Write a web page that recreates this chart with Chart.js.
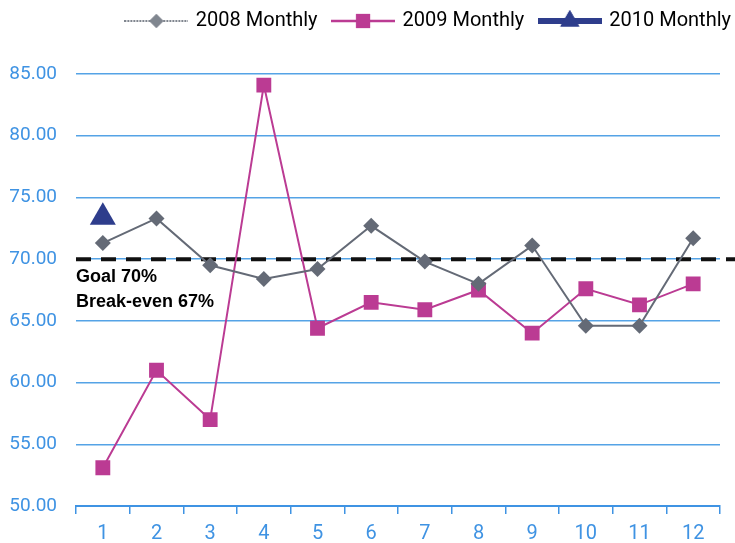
<!DOCTYPE html>
<html>
<head>
<meta charset="utf-8">
<script src="https://cdn.jsdelivr.net/npm/chart.js@4/dist/chart.umd.min.js"></script>
<style>
  body { margin: 0; background: #fff; }
  #wrap { width: 735px; height: 543px; }
</style>
</head>
<body>
<div id="wrap"><canvas id="myChart"></canvas></div>
<script>
const months = ['1', '2', '3', '4', '5', '6', '7', '8', '9', '10', '11', '12'];
const monthly2008 = [71.3, 73.3, 69.5, 68.4, 69.2, 72.7, 69.8, 68.0, 71.1, 64.6, 64.6, 71.7];
const monthly2009 = [53.1, 61.0, 57.0, 84.1, 64.4, 66.5, 65.9, 67.5, 64.0, 67.6, 66.3, 68.0];
const monthly2010 = [73.4, null, null, null, null, null, null, null, null, null, null, null];
const goal = 70;
const goalLabels = ['Goal 70%', 'Break-even 67%'];

const font = "Roboto, 'Liberation Sans', sans-serif";
const blue = '#3f93e3';

// small line + marker picture for the legend
function legendIcon(color, lineWidth, dash, style, radius) {
    const c = document.createElement('canvas');
    c.width = 64;
    c.height = 26;
    const ctx = c.getContext('2d');
    ctx.strokeStyle = color;
    ctx.lineWidth = lineWidth;
    ctx.setLineDash(dash);
    ctx.beginPath();
    ctx.moveTo(0, 13);
    ctx.lineTo(64, 13);
    ctx.stroke();
    ctx.setLineDash([]);
    ctx.fillStyle = color;
    Chart.helpers.drawPoint(ctx, { pointStyle: style, radius: radius, rotation: 0, borderWidth: 0 }, 32, 13);
    ctx.fill();
    return c;
}

const icons = [
    legendIcon('#80868f', 2, [2, 1], 'rectRot', 7),
    legendIcon('#bb3b93', 2.5, [], 'rect', 10),
    legendIcon('#2e3d8c', 6, [], 'triangle', 11)
];

const goalLine = {
    id: 'goalLine',
    beforeInit(chart) {
        const fit = chart.legend.fit;
        chart.legend.fit = function () {
            fit.call(this);
            this.height = 74;
        };
    },
    afterLayout(chart) {
        const lg = chart.legend;
        const dx = chart.width + 12 - lg.right;
        lg.left += dx;
        lg.right += dx;
        lg.top -= 5;
        lg.bottom -= 5;
    },
    beforeDatasetsDraw(chart) {
        const ctx = chart.ctx;
        const y = chart.scales.y.getPixelForValue(goal);
        const left = chart.chartArea.left;
        ctx.save();
        ctx.strokeStyle = '#111';
        ctx.lineWidth = 4;
        ctx.setLineDash([15, 10]);
        ctx.beginPath();
        ctx.moveTo(left, y);
        ctx.lineTo(chart.width, y);
        ctx.stroke();
        ctx.setLineDash([]);
        ctx.fillStyle = '#000';
        ctx.font = "bold 18px 'Liberation Sans', Arial, sans-serif";
        ctx.textBaseline = 'alphabetic';
        ctx.fillText(goalLabels[0], left, y + 23);
        ctx.fillText(goalLabels[1], left, y + 48);
        ctx.restore();
    }
};

new Chart(document.getElementById('myChart').getContext('2d'), {
    type: 'line',
    data: {
        labels: months,
        datasets: [{
            label: '2008 Monthly',
            data: monthly2008,
            borderColor: '#646a76',
            backgroundColor: '#646a76',
            borderWidth: 2,
            pointStyle: 'rectRot',
            pointRadius: 8,
            pointBorderWidth: 0,
            tension: 0
        }, {
            label: '2009 Monthly',
            data: monthly2009,
            borderColor: '#bb3b93',
            backgroundColor: '#bb3b93',
            borderWidth: 2,
            pointStyle: 'rect',
            pointRadius: 10.5,
            pointBorderWidth: 0,
            tension: 0
        }, {
            label: '2010 Monthly',
            data: monthly2010,
            borderColor: '#2e3d8c',
            backgroundColor: '#2e3d8c',
            borderWidth: 4,
            pointStyle: 'triangle',
            pointRadius: 15,
            pointBorderWidth: 0,
            tension: 0
        }]
    },
    options: {
        responsive: true,
        maintainAspectRatio: false,
        animation: false,
        layout: { padding: { left: 10, right: 13, top: 0, bottom: 3 } },
        plugins: {
            legend: {
                position: 'top',
                align: 'end',
                labels: {
                    usePointStyle: true,
                    pointStyleWidth: 59,
                    boxHeight: 22,
                    padding: 16,
                    color: '#111',
                    font: { family: font, size: 20 },
                    generateLabels: (chart) => chart.data.datasets.map((ds, i) => ({
                        text: ds.label,
                        pointStyle: icons[i],
                        fillStyle: ds.backgroundColor,
                        strokeStyle: ds.borderColor,
                        lineWidth: 0,
                        hidden: false,
                        datasetIndex: i
                    }))
                }
            },
            tooltip: { enabled: false }
        },
        scales: {
            x: {
                offset: true,
                afterFit: (scale) => { scale.height = 34; },
                grid: {
                    offset: true,
                    drawOnChartArea: false,
                    drawTicks: true,
                    tickLength: 8,
                    color: blue,
                    lineWidth: 1.5
                },
                border: { color: blue, width: 2 },
                ticks: {
                    color: blue,
                    padding: 10,
                    font: { family: font, size: 20, lineHeight: 1 }
                }
            },
            y: {
                min: 50,
                max: 85,
                afterFit: (scale) => { scale.width = 66; },
                grid: {
                    drawTicks: false,
                    color: '#55a3e6',
                    lineWidth: 1.5
                },
                border: { display: false },
                ticks: {
                    stepSize: 5,
                    color: blue,
                    padding: 19,
                    font: { family: font, size: 19 },
                    callback: (v) => v.toFixed(2)
                }
            }
        }
    },
    plugins: [goalLine]
});
</script>
</body>
</html>
